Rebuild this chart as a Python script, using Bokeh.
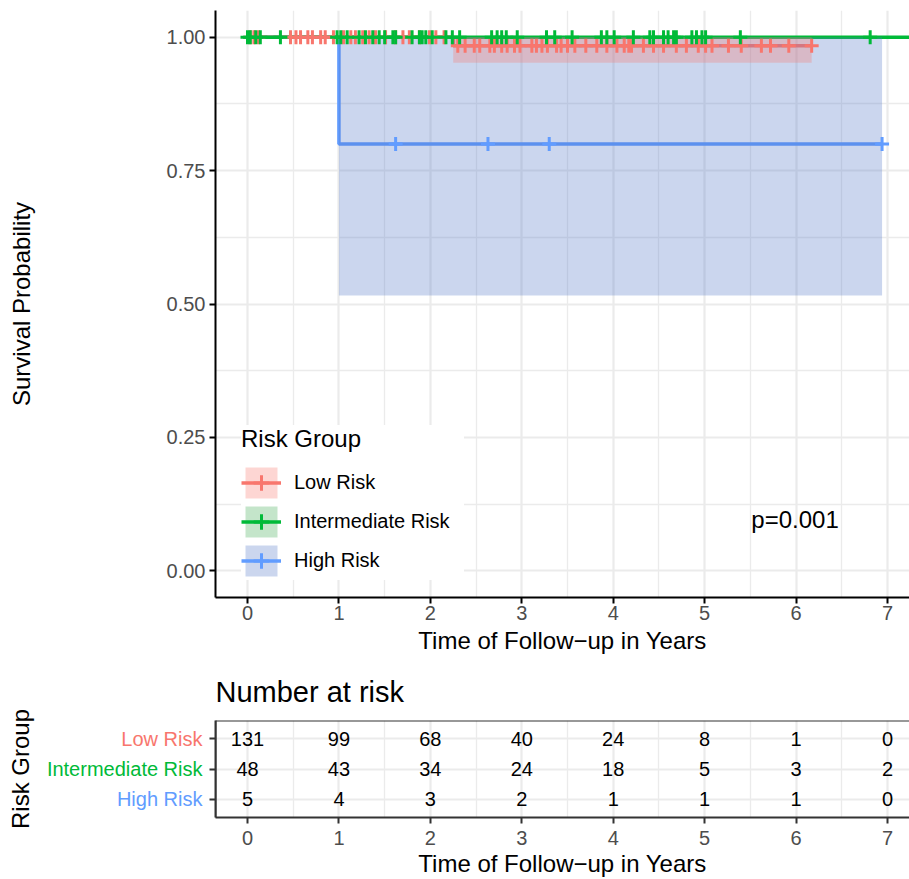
import numpy as np
from bokeh.plotting import figure
from bokeh.models import (Range1d, FixedTicker, Legend, LegendItem, Label, Span,
                          NumeralTickFormatter, CustomJSTickFormatter)
from bokeh.layouts import column, row
from bokeh.embed import file_html
from bokeh.resources import INLINE
from bokeh.core.properties import value

FONT = "Liberation Sans"

# ---------------- data ----------------
groups = ["Low Risk", "Intermediate Risk", "High Risk"]
line_colors = ["#F8766D", "#00BA38", "#619CFF"]
fill_colors = ["#F8766D", "#3DAA4E", "#5277C8"]

# Kaplan-Meier steps (time in years, survival)
low_step_t = [0.0, 2.25, 6.17]
low_step_s = [1.0, 0.984, 0.984]
int_step_t = [0.0, 7.30]
int_step_s = [1.0, 1.0]
high_step_t = [0.0, 1.0, 6.94]
high_step_s = [1.0, 0.80, 0.80]

# confidence bands
low_ci_t = [2.25, 6.17]
low_ci_lo = [0.952, 0.952]
low_ci_hi = [1.0, 1.0]
int_ci_t = [0.0, 7.30]
int_ci_lo = [1.0, 1.0]
int_ci_hi = [1.0, 1.0]
high_ci_t = [1.0, 6.94]
high_ci_lo = [0.516, 0.516]
high_ci_hi = [1.0, 1.0]

# censoring times
low_cens = [0.03, 0.07, 0.12, 0.47, 0.53, 0.58, 0.66, 0.71, 0.80, 0.85, 0.94, 1.05, 1.13,
            1.18, 1.26, 1.33, 1.40, 1.51, 1.62, 1.70, 1.77, 1.88, 1.99, 2.06, 2.15, 2.30,
            2.38, 2.48, 2.54, 2.65, 2.70, 2.78, 2.84, 2.92, 2.98, 3.11, 3.16, 3.22, 3.28,
            3.38, 3.43, 3.50, 3.58, 3.70, 3.82, 3.93, 4.04, 4.12, 4.17, 4.20, 4.33, 4.44,
            4.55, 4.69, 4.80, 4.93, 5.01, 5.08, 5.26, 5.40, 5.62, 5.72, 5.92, 6.17]
int_cens = [0.0, 0.03, 0.09, 0.14, 0.36, 0.98, 1.02, 1.09, 1.22, 1.29, 1.37, 1.44, 1.50,
            1.59, 1.62, 1.80, 1.88, 1.91, 1.95, 2.02, 2.17, 2.24, 2.32, 2.67, 2.73, 2.78,
            2.83, 2.95, 3.27, 3.36, 3.55, 3.87, 3.93, 4.01, 4.22, 4.40, 4.44, 4.55, 4.60,
            4.66, 4.69, 4.86, 4.91, 4.97, 5.01, 5.39, 6.81]
high_cens = [1.62, 2.63, 3.30, 6.94]

# number at risk table
risk_times = [0, 1, 2, 3, 4, 5, 6, 7]
low_n = [131, 99, 68, 40, 24, 8, 1, 0]
int_n = [48, 43, 34, 24, 18, 5, 3, 2]
high_n = [5, 4, 3, 2, 1, 1, 1, 0]

x_ticks = [0, 1, 2, 3, 4, 5, 6, 7]
y_ticks = [0.0, 0.25, 0.5, 0.75, 1.0]
p_text = "p=0.001"


def surv_at(step_t, step_s, times):
    idx = np.searchsorted(np.array(step_t), np.array(times), side="right") - 1
    return list(np.array(step_s)[idx])


steps = [(low_step_t, low_step_s), (int_step_t, int_step_s), (high_step_t, high_step_s)]
cis = [(low_ci_t, low_ci_lo, low_ci_hi), (int_ci_t, int_ci_lo, int_ci_hi),
       (high_ci_t, high_ci_lo, high_ci_hi)]
cens = [low_cens, int_cens, high_cens]

X0, X1 = -0.35, 7.24
x_minor = [t + 0.5 for t in [-1] + x_ticks]
GRID = "#EBEBEB"

# ---------------- survival plot ----------------
p = figure(width=909, height=660, x_range=Range1d(X0, X1), y_range=Range1d(-0.05, 1.05),
           output_backend="svg", toolbar_location=None,
           min_border_left=215, min_border_right=0, min_border_top=10, min_border_bottom=63)
p.outline_line_color = None
p.background_fill_color = "white"
p.border_fill_color = "white"

p.xaxis.ticker = FixedTicker(ticks=x_ticks, minor_ticks=x_minor)
p.yaxis.ticker = FixedTicker(ticks=y_ticks, minor_ticks=[v + 0.125 for v in y_ticks[:-1]])
p.yaxis.formatter = NumeralTickFormatter(format="0.00")

for ax in (p.xaxis[0], p.yaxis[0]):
    ax.axis_line_color = "black"
    ax.axis_line_width = 2
    ax.major_tick_line_color = "black"
    ax.major_tick_line_width = 2
    ax.major_tick_out = 6
    ax.major_tick_in = 0
    ax.minor_tick_line_color = None
    ax.major_label_text_font = FONT
    ax.major_label_text_font_size = "20px"
    ax.major_label_text_color = "#4D4D4D"
    ax.axis_label_text_font = FONT
    ax.axis_label_text_font_size = "24px"
    ax.axis_label_text_font_style = "normal"
    ax.axis_label_text_color = "black"

p.xaxis.axis_label = "Time of Follow\u2212up in Years"
p.yaxis.axis_label = "Survival Probability"
p.xaxis.major_label_standoff = 2
p.xaxis.axis_label_standoff = 4
p.yaxis.major_label_standoff = 4
p.yaxis.axis_label_standoff = 129

for g in (p.xgrid[0], p.ygrid[0]):
    g.grid_line_color = GRID
    g.grid_line_width = 2.2
    g.minor_grid_line_color = GRID
    g.minor_grid_line_width = 1.3

# lines first (High, Low, Intermediate), ribbons over them, censor marks on top
order = [2, 0, 1]
line_map = {}
for i in order:
    st, ss = steps[i]
    line_map[i] = p.step(x=st, y=ss, mode="after", line_color=line_colors[i], line_width=3.5)
fill_map = {}
for i in order:
    ct, lo, hi = cis[i]
    fill_map[i] = p.varea(x=ct, y1=lo, y2=hi, fill_color=fill_colors[i], fill_alpha=0.3)
cens_map = {}
for i in [0, 1, 2]:
    st, ss = steps[i]
    cens_map[i] = p.scatter(x=cens[i], y=surv_at(st, ss, cens[i]), marker="cross", size=14,
                            line_color=line_colors[i], line_width=3)

items = [LegendItem(label=groups[i], renderers=[fill_map[i], line_map[i], cens_map[i]])
         for i in range(3)]
legend = Legend(items=items, location=(26, 17), title="Risk Group",
                title_text_font=FONT, title_text_font_size="24px", title_text_font_style="normal",
                title_text_color="black",
                label_text_font=FONT, label_text_font_size="20px", label_text_color="black",
                glyph_width=40, glyph_height=39, spacing=0, padding=15, margin=0,
                label_standoff=13, title_standoff=10, label_width=170,
                border_line_color=None, background_fill_color="white", background_fill_alpha=1.0)
p.add_layout(legend)

p.add_layout(Label(x=5.51, y=0.096, text=p_text, text_font=FONT, text_font_size="24px",
                   text_align="left", text_baseline="middle", text_color="black"))

# ---------------- risk table ----------------
rows = [len(groups) - k for k in range(len(groups))]  # Low=3, Int=2, High=1
y_tab = Range1d(0.4, 3.6)

# left strip: coloured group names + "Risk Group" title
lab = figure(width=203, height=219, x_range=Range1d(0, 1), y_range=y_tab,
             output_backend="svg", toolbar_location=None,
             min_border_left=33, min_border_right=0, min_border_top=60, min_border_bottom=59)
lab.outline_line_color = None
lab.xaxis.visible = False
lab.xgrid.visible = False
lab.ygrid.visible = False
lab.yaxis.ticker = FixedTicker(ticks=[])
lab.yaxis.major_tick_line_color = None
lab.yaxis.minor_tick_line_color = None
lab.yaxis.axis_line_color = None
lab.yaxis.major_label_standoff = 0
lab.yaxis.axis_label = "Risk Group"
lab.yaxis.axis_label_standoff = 0
lab.yaxis.axis_label_text_font = FONT
lab.yaxis.axis_label_text_font_size = "24px"
lab.yaxis.axis_label_text_font_style = "normal"
lab.yaxis.axis_label_text_color = "black"
lab.text(x=[1.0] * len(groups), y=rows, text=groups, text_color=line_colors,
         x_offset=-1, text_font=value(FONT), text_font_size="20px",
         text_align="right", text_baseline="middle")

t = figure(width=706, height=219, x_range=p.x_range, y_range=y_tab,
           output_backend="svg", toolbar_location=None, title="Number at risk",
           min_border_left=12, min_border_right=0, min_border_top=60, min_border_bottom=59)
t.title.text_font = FONT
t.title.text_font_size = "29px"
t.title.text_font_style = "normal"
t.title.text_color = "black"
t.title.align = "left"
t.title.standoff = 25
t.outline_line_color = None
t.background_fill_color = "white"
t.border_fill_color = "white"

t.xaxis.ticker = FixedTicker(ticks=x_ticks, minor_ticks=x_minor)
t.yaxis.ticker = FixedTicker(ticks=rows, minor_ticks=[])
t.yaxis.formatter = CustomJSTickFormatter(code="return ''")
for ax in (t.xaxis[0], t.yaxis[0]):
    ax.axis_line_color = "#333333"
    ax.axis_line_width = 2
    ax.major_tick_line_color = "#333333"
    ax.major_tick_line_width = 2
    ax.major_tick_out = 6
    ax.major_tick_in = 0
    ax.minor_tick_line_color = None
    ax.major_label_text_font = FONT
    ax.major_label_text_font_size = "20px"
    ax.major_label_text_color = "#4D4D4D"
    ax.axis_label_text_font = FONT
    ax.axis_label_text_font_size = "24px"
    ax.axis_label_text_font_style = "normal"
    ax.axis_label_text_color = "black"
t.yaxis.major_label_standoff = 0
t.xaxis.axis_label = "Time of Follow\u2212up in Years"
t.xaxis.major_label_standoff = 7
t.xaxis.axis_label_standoff = 2

t.xgrid.grid_line_color = GRID
t.xgrid.grid_line_width = 2.2
t.xgrid.minor_grid_line_color = GRID
t.xgrid.minor_grid_line_width = 1.3
t.ygrid.grid_line_color = GRID
t.ygrid.grid_line_width = 2.2

# panel border (top and left) drawn at the range limits
t.add_layout(Span(location=y_tab.end, dimension="width", line_color="#333333", line_width=2))
t.add_layout(Span(location=X0, dimension="height", line_color="#333333", line_width=2))

tx, ty, tt = [], [], []
for r, ns in zip(rows, [low_n, int_n, high_n]):
    for xt, n in zip(risk_times, ns):
        tx.append(xt)
        ty.append(r)
        tt.append(str(n))
t.text(x=tx, y=ty, text=tt, text_font=value(FONT), text_font_size="20px",
       text_align="center", text_baseline="middle", text_color="black")

layout = column(p, row(lab, t, spacing=0), spacing=0)
open("out.html", "w").write(file_html(layout, INLINE))
